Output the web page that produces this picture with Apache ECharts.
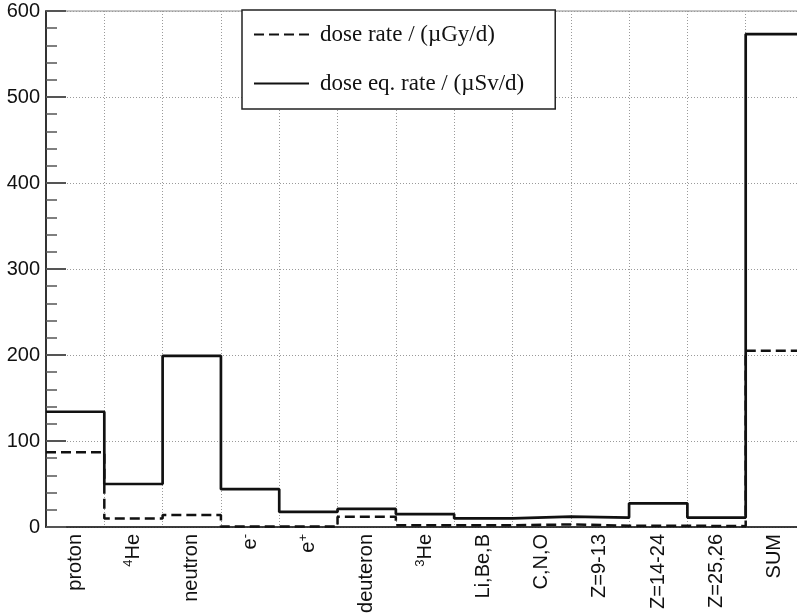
<!DOCTYPE html>
<html>
<head>
<meta charset="utf-8">
<script src="https://cdn.jsdelivr.net/npm/echarts@6/dist/echarts.min.js"></script>
<style>
  html, body { margin: 0; padding: 0; background: #fff; }
  #chart { width: 797px; height: 613px; }
</style>
</head>
<body>
<div id="chart"></div>
<script>
// bins (rich text for the superscripts)
var categories = ['proton', '{sup|4}He', 'neutron', 'e{sup|-}', 'e{sup|+}', 'deuteron',
    '{sup|3}He', 'Li,Be,B', 'C,N,O', 'Z=9-13', 'Z=14-24', 'Z=25,26', 'SUM'];
// dose eq. rate / (uSv/d)
var doseEqRate = [134, 50, 199, 44, 17.5, 21, 15, 10, 12, 11, 27.5, 11, 573];
// dose rate / (uGy/d)
var doseRate = [87, 10, 14, 0.5, 0.5, 12, 2, 2, 3, 1.5, 1.5, 1, 205];
var yTicks = [0, 100, 200, 300, 400, 500, 600];

// histogram steps: one point per bin low edge, last one closes the final bin
function steps(vals) {
    var out = [];
    vals.forEach(function (v, i) { out.push([i, v]); });
    out.push([vals.length, vals[vals.length - 1]]);
    return out;
}

var chart = echarts.init(document.getElementById('chart'));
var gridLine = { show: true, lineStyle: { color: '#9a9a9a', width: 1, type: [1, 2] } };

chart.setOption({
    animation: false,
    backgroundColor: '#fff',
    grid: {
        left: 46, top: 11, width: 758, bottom: 86,
        outerBoundsMode: 'none', containLabel: false,
        show: true, borderColor: '#8a8a8a', borderWidth: 1, backgroundColor: '#fff'
    },
    legend: {
        left: 242, top: 10,
        orient: 'vertical',
        backgroundColor: '#fff',
        borderColor: '#222', borderWidth: 1.5, borderRadius: 0,
        padding: [13, 31, 14, 11],
        itemWidth: 55, itemHeight: 14, itemGap: 26,
        itemStyle: { opacity: 0 },
        textStyle: { fontFamily: 'Liberation Serif', fontSize: 23, color: '#111', padding: [0, 0, 0, 6] },
        data: ['dose rate / (\u00b5Gy/d)', 'dose eq. rate / (\u00b5Sv/d)']
    },
    xAxis: [{
        type: 'value', min: 0, max: categories.length, interval: 1,
        position: 'bottom',
        axisLine: { show: false }, axisTick: { show: false }, axisLabel: { show: false },
        splitLine: gridLine
    }, {
        type: 'category', data: categories, boundaryGap: true,
        position: 'bottom',
        axisLine: { show: true, lineStyle: { color: '#111', width: 1.5 } },
        axisTick: { show: false },
        splitLine: { show: false },
        axisLabel: {
            rotate: 90, margin: 7, interval: 0,
            fontFamily: 'Liberation Sans', fontSize: 20, color: '#111',
            rich: {
                sup: { fontFamily: 'Liberation Sans', fontSize: 13, color: '#111', verticalAlign: 'top', lineHeight: 23 }
            }
        }
    }],
    yAxis: {
        type: 'value', min: yTicks[0], max: yTicks[yTicks.length - 1], interval: 100,
        axisLine: { show: true, lineStyle: { color: '#333', width: 2 } },
        axisTick: { show: true, inside: true, length: 20, lineStyle: { color: '#555', width: 2 } },
        minorTick: { show: true, splitNumber: 5, length: 11, lineStyle: { color: '#555', width: 1.5 } },
        axisLabel: { margin: 6, fontFamily: 'Liberation Sans', fontSize: 20, color: '#111' },
        splitLine: gridLine
    },
    series: [{
        name: 'dose rate / (\u00b5Gy/d)',
        type: 'line', step: 'end', symbol: 'none',
        xAxisIndex: 0,
        data: steps(doseRate),
        lineStyle: { color: '#111', width: 2.5, type: [10, 5] },
        itemStyle: { color: '#111' },
        z: 3
    }, {
        name: 'dose eq. rate / (\u00b5Sv/d)',
        type: 'line', step: 'end', symbol: 'none',
        xAxisIndex: 0,
        data: steps(doseEqRate),
        lineStyle: { color: '#111', width: 2.7 },
        itemStyle: { color: '#111' },
        z: 2
    }]
});
</script>
</body>
</html>
